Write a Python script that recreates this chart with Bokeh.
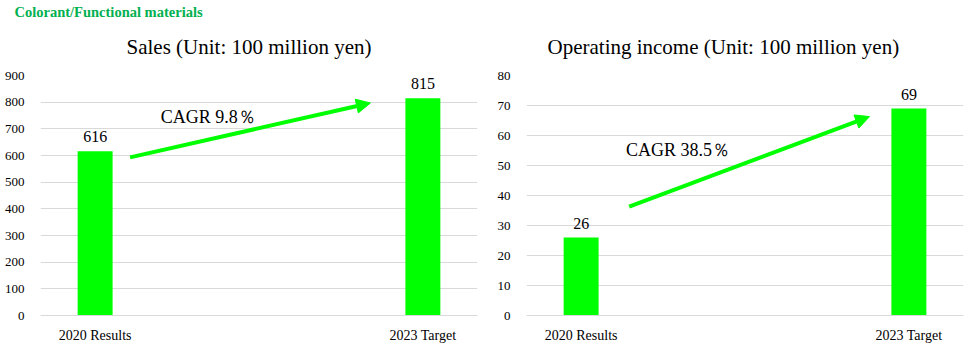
from bokeh.plotting import figure
from bokeh.layouts import row
from bokeh.models import Title, Arrow, NormalHead, Label, ColumnDataSource, FixedTicker, Range1d
from bokeh.embed import file_html
from bokeh.resources import INLINE
from bokeh.core.properties import value

header = "Colorant/Functional materials"
categories = ["2020 Results", "2023 Target"]
sales = [616, 815]
income = [26, 69]
sales_title = "Sales (Unit: 100 million yen)"
income_title = "Operating income (Unit: 100 million yen)"
sales_cagr = "CAGR 9.8％"
income_cagr = "CAGR 38.5％"
sales_ticks = list(range(0, 901, 100))
income_ticks = list(range(0, 81, 10))
# CAGR arrow endpoints (value scale) and label anchor
sales_arrow_from = [0.82, 593]
sales_arrow_to = [3.02, 797]
income_arrow_from = [0.94, 36.3]
income_arrow_to = [3.14, 66.3]
sales_cagr_at = [1.10, 746]
income_cagr_at = [0.91, 55.3]

SERIF = "'Liberation Serif', 'Times New Roman', serif"
GREEN = "#00FF00"
GRID = "#d9d9d9"


def make_chart(vals, ticks, title, title_offset, cagr, cagr_at, a_from, a_to, head=None):
    xs = [0.5 + 3 * i for i in range(len(categories))]
    src = ColumnDataSource(dict(x=xs, top=vals, lab=[str(v) for v in vals]))
    p = figure(width=486, height=345, output_backend="svg", toolbar_location=None,
               x_range=Range1d(0, 4), y_range=Range1d(0, ticks[-1]),
               min_border_left=40, min_border_right=9, min_border_top=75,
               min_border_bottom=29)
    p.outline_line_color = None
    p.background_fill_color = "white"
    p.border_fill_color = "white"
    p.vbar(x="x", top="top", width=0.32, bottom=0, source=src,
           fill_color=GREEN, line_color=None)
    p.text(x="x", y="top", text="lab", source=src, text_align="center",
           text_baseline="bottom", y_offset=-9, text_font=value(SERIF),
           text_font_size="16px", text_color="black")
    p.xgrid.visible = False
    p.ygrid.grid_line_color = GRID
    p.ygrid.ticker = FixedTicker(ticks=ticks)
    p.yaxis.ticker = FixedTicker(ticks=ticks)
    p.yaxis.axis_line_color = None
    p.yaxis.major_tick_line_color = None
    p.yaxis.minor_tick_line_color = None
    p.yaxis.major_label_text_font = SERIF
    p.yaxis.major_label_text_font_size = "13px"
    p.yaxis.major_label_text_color = "black"
    p.yaxis.major_label_standoff = 10
    p.xaxis.ticker = FixedTicker(ticks=xs)
    p.xaxis.major_label_overrides = {x: c for x, c in zip(xs, categories)}
    p.xaxis.axis_line_color = GRID
    p.xaxis.major_tick_line_color = None
    p.xaxis.minor_tick_line_color = None
    p.xaxis.major_label_text_font = SERIF
    p.xaxis.major_label_text_font_size = "14px"
    p.xaxis.major_label_text_color = "black"
    p.xaxis.major_label_standoff = 6
    p.add_layout(Arrow(x_start=a_from[0], y_start=a_from[1], x_end=a_to[0], y_end=a_to[1],
                       line_color=GREEN, line_width=4,
                       end=NormalHead(size=14, fill_color=GREEN, line_color=GREEN)))
    p.add_layout(Label(x=cagr_at[0], y=cagr_at[1], text=cagr, text_baseline="middle",
                       text_font=SERIF, text_font_size="18px", text_color="black"))
    if head:
        p.title = Title(text=head, align="left", offset=-26, text_font=SERIF,
                        text_font_size="14.5px", text_font_style="bold",
                        text_color="#00B050", standoff=-9)
    else:
        p.title = None
    p.add_layout(Title(text=title, align="left", offset=title_offset, text_font=SERIF,
                       text_font_size="21px", text_font_style="normal", text_color="black",
                       standoff=34), "above")
    return p


p1 = make_chart(sales, sales_ticks, sales_title, 86, sales_cagr, sales_cagr_at,
                sales_arrow_from, sales_arrow_to, head=header)
p2 = make_chart(income, income_ticks, income_title, 21, income_cagr, income_cagr_at,
                income_arrow_from, income_arrow_to)

layout = row(p1, p2, spacing=0)
open("out.html", "w").write(file_html(layout, INLINE))
